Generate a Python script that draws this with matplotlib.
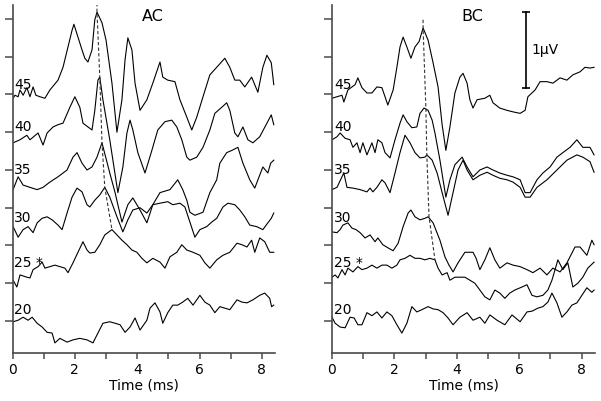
import matplotlib
matplotlib.use("Agg")
import matplotlib.pyplot as plt

# ---- AC traces (time in ms, amplitude in uV, already offset) ----
ac_45_t = [0.02, 0.08, 0.18, 0.24, 0.34, 0.46, 0.56, 0.66, 0.75, 0.88, 1.04, 1.20, 1.46, 1.62, 1.78,
           1.91, 1.97, 2.10, 2.23, 2.32, 2.42, 2.55, 2.64, 2.71, 2.87, 3.00, 3.19, 3.35, 3.51, 3.61,
           3.70, 3.83, 3.93, 4.09, 4.31, 4.50, 4.73, 4.82, 4.98, 5.21, 5.37, 5.59, 5.75, 5.91, 6.11,
           6.33, 6.55, 6.81, 6.97, 7.13, 7.29, 7.45, 7.67, 7.87, 8.03, 8.16, 8.30, 8.38]
ac_45_v = [2.95, 2.99, 2.97, 3.06, 2.99, 3.09, 2.97, 3.10, 2.99, 2.97, 2.95, 3.06, 3.19, 3.36, 3.63,
           3.85, 3.93, 3.76, 3.59, 3.48, 3.43, 3.59, 3.99, 4.09, 3.95, 3.72, 3.15, 2.50, 2.93, 3.46,
           3.75, 3.59, 3.15, 2.79, 2.93, 3.15, 3.43, 3.23, 3.19, 3.17, 2.93, 2.70, 2.53, 2.70, 2.97,
           3.26, 3.36, 3.48, 3.36, 3.19, 3.19, 3.10, 3.23, 3.03, 3.36, 3.52, 3.42, 3.13]

ac_40_t = [0.02, 0.24, 0.46, 0.56, 0.82, 0.98, 1.11, 1.30, 1.46, 1.62, 1.84, 2.00, 2.16, 2.26, 2.42,
           2.55, 2.64, 2.74, 2.80, 2.90, 3.12, 3.38, 3.54, 3.67, 3.77, 3.86, 4.02, 4.25, 4.47, 4.66,
           4.89, 5.11, 5.27, 5.43, 5.59, 5.69, 5.91, 6.11, 6.33, 6.49, 6.71, 6.87, 6.97, 7.13, 7.23,
           7.39, 7.55, 7.71, 7.93, 8.16, 8.30, 8.38]
ac_40_v = [2.36, 2.40, 2.46, 2.40, 2.49, 2.33, 2.49, 2.57, 2.60, 2.62, 2.83, 2.97, 2.83, 2.62, 2.57,
           2.53, 2.79, 3.19, 3.23, 2.93, 2.40, 1.70, 2.04, 2.49, 2.66, 2.53, 2.23, 1.96, 2.26, 2.53,
           2.64, 2.66, 2.57, 2.40, 2.17, 2.13, 2.17, 2.30, 2.53, 2.75, 2.83, 2.89, 2.79, 2.49, 2.44,
           2.57, 2.40, 2.36, 2.44, 2.62, 2.73, 2.60]

ac_35_t = [0.02, 0.18, 0.34, 0.56, 0.79, 0.98, 1.20, 1.46, 1.75, 1.94, 2.07, 2.23, 2.39, 2.55, 2.71,
           2.87, 3.12, 3.29, 3.51, 3.70, 3.86, 4.09, 4.31, 4.50, 4.73, 5.05, 5.30, 5.46, 5.59, 5.69,
           5.85, 6.11, 6.33, 6.55, 6.65, 6.87, 7.04, 7.23, 7.39, 7.61, 7.77, 8.03, 8.19, 8.28, 8.38]
ac_35_v = [1.74, 1.91, 1.80, 1.77, 1.74, 1.77, 1.84, 1.91, 2.00, 2.17, 2.23, 2.09, 2.00, 2.04, 2.17,
           2.36, 1.96, 1.70, 1.31, 1.54, 1.63, 1.47, 1.30, 1.54, 1.70, 1.74, 1.87, 1.74, 1.60, 1.44,
           1.40, 1.44, 1.70, 1.87, 2.09, 2.23, 2.26, 2.30, 2.09, 1.87, 1.76, 2.04, 1.96, 2.09, 2.13]

ac_30_t = [0.02, 0.18, 0.34, 0.50, 0.66, 0.79, 0.95, 1.11, 1.27, 1.46, 1.59, 1.75, 1.91, 2.07, 2.23,
           2.39, 2.48, 2.64, 2.80, 2.96, 3.12, 3.35, 3.54, 3.70, 3.86, 4.09, 4.31, 4.50, 4.73, 4.98,
           5.14, 5.37, 5.53, 5.69, 5.85, 6.01, 6.23, 6.39, 6.55, 6.75, 6.91, 7.13, 7.29, 7.45, 7.61,
           7.83, 8.03, 8.19, 8.30, 8.38]
ac_30_v = [1.25, 1.11, 1.21, 1.25, 1.17, 1.30, 1.36, 1.38, 1.34, 1.27, 1.21, 1.43, 1.64, 1.76, 1.71,
           1.54, 1.51, 1.60, 1.67, 1.77, 1.64, 1.38, 1.18, 1.34, 1.47, 1.50, 1.43, 1.54, 1.56, 1.58,
           1.54, 1.56, 1.51, 1.31, 1.11, 1.21, 1.25, 1.31, 1.36, 1.51, 1.56, 1.54, 1.47, 1.38, 1.27,
           1.25, 1.21, 1.30, 1.36, 1.43]

ac_25_t = [0.02, 0.14, 0.24, 0.46, 0.56, 0.66, 0.82, 0.95, 1.04, 1.20, 1.36, 1.52, 1.68, 1.78, 1.94,
           2.10, 2.26, 2.39, 2.48, 2.64, 2.80, 2.96, 3.19, 3.35, 3.51, 3.67, 3.83, 3.99, 4.15, 4.31,
           4.50, 4.73, 4.89, 5.05, 5.27, 5.43, 5.59, 5.79, 6.01, 6.17, 6.33, 6.55, 6.75, 6.97, 7.20,
           7.36, 7.52, 7.67, 7.77, 7.93, 8.09, 8.25, 8.38]
ac_25_v = [0.54, 0.45, 0.61, 0.58, 0.57, 0.68, 0.72, 0.78, 0.70, 0.72, 0.74, 0.72, 0.70, 0.64, 0.77,
           0.91, 1.05, 0.94, 0.90, 0.91, 1.01, 1.14, 1.21, 1.14, 1.07, 1.01, 0.94, 0.91, 0.83, 0.77,
           0.83, 0.78, 0.70, 0.85, 0.91, 1.01, 0.94, 0.91, 0.87, 0.77, 0.70, 0.81, 0.87, 0.91, 1.03,
           1.01, 0.98, 1.07, 0.91, 1.10, 1.05, 0.91, 0.91]

ac_20_t = [0.02, 0.18, 0.34, 0.50, 0.63, 0.79, 0.95, 1.11, 1.27, 1.36, 1.52, 1.75, 1.94, 2.16, 2.39,
           2.58, 2.74, 2.90, 3.12, 3.29, 3.45, 3.61, 3.77, 3.93, 4.09, 4.31, 4.41, 4.57, 4.73, 4.82,
           4.98, 5.14, 5.30, 5.46, 5.62, 5.79, 6.01, 6.17, 6.33, 6.49, 6.65, 6.81, 6.97, 7.20, 7.36,
           7.52, 7.71, 7.93, 8.09, 8.25, 8.31, 8.38]
ac_20_v = [-0.01, 0.01, 0.05, 0.01, 0.05, -0.03, -0.08, -0.15, -0.16, -0.29, -0.23, -0.28, -0.25, -0.23, -0.25,
           -0.29, -0.16, -0.03, -0.01, -0.03, -0.05, -0.15, -0.08, 0.04, -0.12, 0.01, 0.17, 0.24, 0.12, -0.03,
           0.11, 0.21, 0.21, 0.25, 0.30, 0.21, 0.34, 0.25, 0.21, 0.11, 0.19, 0.17, 0.15, 0.28, 0.25,
           0.24, 0.28, 0.34, 0.37, 0.30, 0.19, 0.21]

# ---- BC traces ----
bc_45_t = [0.00, 0.16, 0.32, 0.38, 0.51, 0.74, 0.83, 0.96, 1.12, 1.28, 1.44, 1.60, 1.70, 1.79, 1.96,
           2.08, 2.18, 2.28, 2.40, 2.53, 2.66, 2.79, 2.92, 3.08, 3.24, 3.40, 3.53, 3.65, 3.78, 3.94,
           4.10, 4.20, 4.33, 4.42, 4.52, 4.65, 4.90, 5.06, 5.16, 5.38, 5.61, 5.80, 6.03, 6.19, 6.28,
           6.51, 6.67, 6.89, 7.08, 7.31, 7.53, 7.72, 7.95, 8.11, 8.27, 8.40]
bc_45_v = [2.95, 2.97, 2.99, 2.90, 3.06, 3.13, 3.22, 3.09, 3.02, 3.02, 3.10, 3.09, 2.97, 2.86, 3.06,
           3.36, 3.63, 3.76, 3.63, 3.48, 3.63, 3.70, 3.88, 3.72, 3.42, 3.10, 2.60, 2.26, 2.57, 3.02,
           3.23, 3.28, 3.15, 2.93, 2.82, 2.93, 2.95, 2.99, 2.89, 2.82, 2.79, 2.77, 2.75, 2.79, 2.97,
           3.06, 3.17, 3.17, 3.15, 3.22, 3.19, 3.26, 3.30, 3.36, 3.35, 3.36]

bc_40_t = [0.00, 0.16, 0.26, 0.42, 0.58, 0.67, 0.80, 0.90, 0.99, 1.12, 1.28, 1.38, 1.47, 1.60, 1.70,
           1.86, 2.02, 2.18, 2.28, 2.40, 2.56, 2.72, 2.82, 2.95, 3.08, 3.21, 3.30, 3.46, 3.56, 3.65,
           3.78, 3.94, 4.17, 4.33, 4.52, 4.74, 4.97, 5.16, 5.38, 5.61, 5.80, 6.03, 6.19, 6.35, 6.57,
           6.76, 6.99, 7.21, 7.40, 7.63, 7.85, 8.04, 8.27, 8.40]
bc_40_v = [2.40, 2.44, 2.49, 2.42, 2.40, 2.30, 2.36, 2.23, 2.36, 2.20, 2.36, 2.23, 2.40, 2.36, 2.23,
           2.16, 2.40, 2.62, 2.73, 2.64, 2.56, 2.57, 2.75, 2.82, 2.79, 2.66, 2.49, 2.13, 1.87, 1.64,
           1.87, 2.07, 2.17, 2.04, 1.91, 2.00, 2.04, 2.00, 1.96, 1.93, 1.91, 1.87, 1.70, 1.70, 1.87,
           1.96, 2.04, 2.17, 2.23, 2.30, 2.40, 2.30, 2.30, 2.20]

bc_35_t = [0.00, 0.16, 0.32, 0.38, 0.48, 0.67, 0.90, 1.12, 1.22, 1.31, 1.44, 1.60, 1.70, 1.86, 2.02,
           2.18, 2.34, 2.50, 2.66, 2.82, 2.98, 3.04, 3.21, 3.37, 3.53, 3.72, 3.88, 4.04, 4.20, 4.33,
           4.52, 4.74, 4.97, 5.16, 5.38, 5.61, 5.80, 6.03, 6.19, 6.35, 6.57, 6.89, 7.21, 7.53, 7.85,
           8.04, 8.27, 8.40]
bc_35_v = [1.74, 1.77, 1.91, 1.96, 1.77, 1.76, 1.74, 1.71, 1.76, 1.71, 1.77, 1.87, 1.83, 1.70, 1.96,
           2.23, 2.46, 2.36, 2.23, 2.16, 2.17, 2.20, 2.13, 1.96, 1.70, 1.40, 1.70, 2.00, 2.13, 2.00,
           1.87, 1.93, 1.97, 1.93, 1.89, 1.87, 1.84, 1.77, 1.64, 1.64, 1.77, 1.87, 2.00, 2.13, 2.20,
           2.17, 2.11, 1.97]

bc_30_t = [0.00, 0.16, 0.26, 0.35, 0.51, 0.64, 0.77, 0.90, 1.06, 1.22, 1.38, 1.47, 1.63, 1.79, 1.96,
           2.12, 2.28, 2.44, 2.53, 2.66, 2.82, 2.98, 3.08, 3.24, 3.46, 3.62, 3.75, 3.88, 4.04, 4.26,
           4.52, 4.62, 4.74, 4.90, 5.06, 5.22, 5.38, 5.61, 5.80, 6.03, 6.25, 6.44, 6.67, 6.89, 7.08,
           7.31, 7.53, 7.79, 7.95, 8.17, 8.33, 8.40]
bc_30_v = [1.18, 1.17, 1.21, 1.27, 1.30, 1.23, 1.21, 1.17, 1.10, 1.14, 1.05, 1.10, 1.01, 0.97, 0.93,
           1.03, 1.25, 1.43, 1.47, 1.38, 1.34, 1.36, 1.38, 1.30, 1.07, 0.85, 0.74, 0.65, 0.77, 0.91,
           0.91, 0.83, 0.68, 0.81, 0.97, 0.81, 0.70, 0.77, 0.74, 0.72, 0.68, 0.64, 0.70, 0.61, 0.70,
           0.65, 0.77, 0.98, 0.98, 0.87, 1.07, 1.01]

bc_25_t = [0.00, 0.10, 0.19, 0.32, 0.42, 0.51, 0.67, 0.83, 0.96, 1.12, 1.28, 1.44, 1.60, 1.76, 1.92,
           2.08, 2.18, 2.34, 2.50, 2.66, 2.82, 2.98, 3.14, 3.30, 3.40, 3.53, 3.69, 3.78, 3.94, 4.26,
           4.58, 4.74, 4.90, 5.06, 5.22, 5.38, 5.54, 5.70, 5.86, 6.09, 6.25, 6.41, 6.57, 6.76, 6.92,
           7.05, 7.15, 7.24, 7.40, 7.56, 7.72, 7.88, 8.04, 8.20, 8.40]
bc_25_v = [0.58, 0.61, 0.57, 0.68, 0.61, 0.70, 0.65, 0.72, 0.68, 0.70, 0.74, 0.70, 0.74, 0.74, 0.70,
           0.74, 0.81, 0.83, 0.87, 0.83, 0.83, 0.81, 0.83, 0.81, 0.70, 0.61, 0.64, 0.54, 0.58, 0.58,
           0.50, 0.41, 0.32, 0.28, 0.41, 0.37, 0.30, 0.37, 0.41, 0.45, 0.48, 0.34, 0.32, 0.34, 0.41,
           0.54, 0.68, 0.81, 0.68, 0.77, 0.45, 0.50, 0.58, 0.70, 0.78]

bc_20_t = [0.00, 0.10, 0.26, 0.42, 0.58, 0.71, 0.83, 0.96, 1.12, 1.28, 1.44, 1.60, 1.76, 1.92, 2.08,
           2.24, 2.40, 2.56, 2.72, 2.88, 3.08, 3.24, 3.40, 3.56, 3.72, 3.88, 4.10, 4.33, 4.52, 4.74,
           4.90, 5.06, 5.29, 5.54, 5.77, 6.03, 6.25, 6.41, 6.60, 6.76, 6.92, 7.05, 7.21, 7.37, 7.53,
           7.69, 7.85, 8.01, 8.17, 8.33, 8.40]
bc_20_v = [0.05, -0.03, -0.08, -0.09, 0.05, 0.04, -0.05, -0.05, 0.11, 0.07, 0.12, 0.04, 0.12, 0.07, -0.05,
           -0.16, -0.03, 0.19, 0.12, 0.15, 0.19, 0.16, 0.15, 0.11, 0.04, -0.05, 0.05, 0.11, 0.01, 0.05,
           -0.03, 0.08, 0.01, -0.05, 0.08, -0.01, 0.12, 0.13, 0.17, 0.19, 0.25, 0.37, 0.24, 0.05, 0.12,
           0.21, 0.24, 0.34, 0.44, 0.38, 0.41]

# peak latency markers (dashed)
ac_peak_t = [2.71, 2.71, 2.80, 2.87, 2.96, 3.19]
ac_peak_v = [4.21, 4.09, 3.23, 2.36, 1.77, 1.21]
bc_peak_t = [2.92, 2.92, 3.01, 3.04, 3.11, 3.30]
bc_peak_v = [3.99, 3.88, 2.81, 2.20, 1.38, 0.81]

levels = ["45", "40", "35", "30", "25 *", "20"]
level_label_v = [3.13, 2.57, 2.00, 1.36, 0.77, 0.15]

scale_bar_uv = 1.0
scale_bar_t = 6.22
scale_bar_top = 4.09

ac_traces = [(ac_45_t, ac_45_v), (ac_40_t, ac_40_v), (ac_35_t, ac_35_v),
             (ac_30_t, ac_30_v), (ac_25_t, ac_25_v), (ac_20_t, ac_20_v)]
bc_traces = [(bc_45_t, bc_45_v), (bc_40_t, bc_40_v), (bc_35_t, bc_35_v),
             (bc_30_t, bc_30_v), (bc_25_t, bc_25_v), (bc_20_t, bc_20_v)]

plt.rcParams["font.family"] = ["DejaVu Sans"]

fig = plt.figure(figsize=(6.01, 4.01), dpi=100)
ax_ac = fig.add_axes([0.0208, 0.1197, 0.4368, 0.8678])
ax_bc = fig.add_axes([0.5524, 0.1197, 0.4376, 0.8678])

AXIS_COLOR = "#4a4a4a"


def draw_panel(ax, traces, peak_t, peak_v, title, xmax):
    for t, v in traces:
        ax.plot(t, v, color="black", lw=0.8)
    ax.plot(peak_t, peak_v, color="#333333", lw=0.8, linestyle=(0, (3, 2)))
    for lab, yv in zip(levels, level_label_v):
        ax.text(0.06, yv, lab, fontsize=10, ha="left", va="center")
    ax.text(4.5, 4.03, title, fontsize=11.5, ha="center", va="center")

    ax.set_xlim(0, xmax)
    ax.set_ylim(-0.424, 4.185)
    for side in ("top", "right"):
        ax.spines[side].set_visible(False)
    for side in ("left", "bottom"):
        ax.spines[side].set_color(AXIS_COLOR)
        ax.spines[side].set_linewidth(1.2)
    ax.set_xticks([0, 2, 4, 6, 8])
    ax.set_xticks([1, 3, 5, 7], minor=True)
    ax.set_yticks([0.5 * i for i in range(9)])
    ax.set_yticklabels([])
    ax.tick_params(axis="both", which="both", direction="out", color=AXIS_COLOR,
                   width=1.1, labelsize=10)
    ax.tick_params(axis="x", which="both", length=4.5, pad=3)
    ax.tick_params(axis="y", length=6)
    ax.set_xlabel("Time (ms)", fontsize=10, labelpad=1)
    ax.patch.set_visible(False)


draw_panel(ax_ac, ac_traces, ac_peak_t, ac_peak_v, "AC", 8.42)
draw_panel(ax_bc, bc_traces, bc_peak_t, bc_peak_v, "BC", 8.43)

# 1 uV scale bar
ax_bc.plot([scale_bar_t, scale_bar_t], [scale_bar_top - scale_bar_uv, scale_bar_top],
           color="black", lw=1.2, marker="_", markersize=6, markeredgewidth=1.2)
ax_bc.text(scale_bar_t + 0.16, scale_bar_top - scale_bar_uv / 2, "1\u00b5V",
           fontsize=10, ha="left", va="center")

fig.savefig("out.png", dpi=100)
